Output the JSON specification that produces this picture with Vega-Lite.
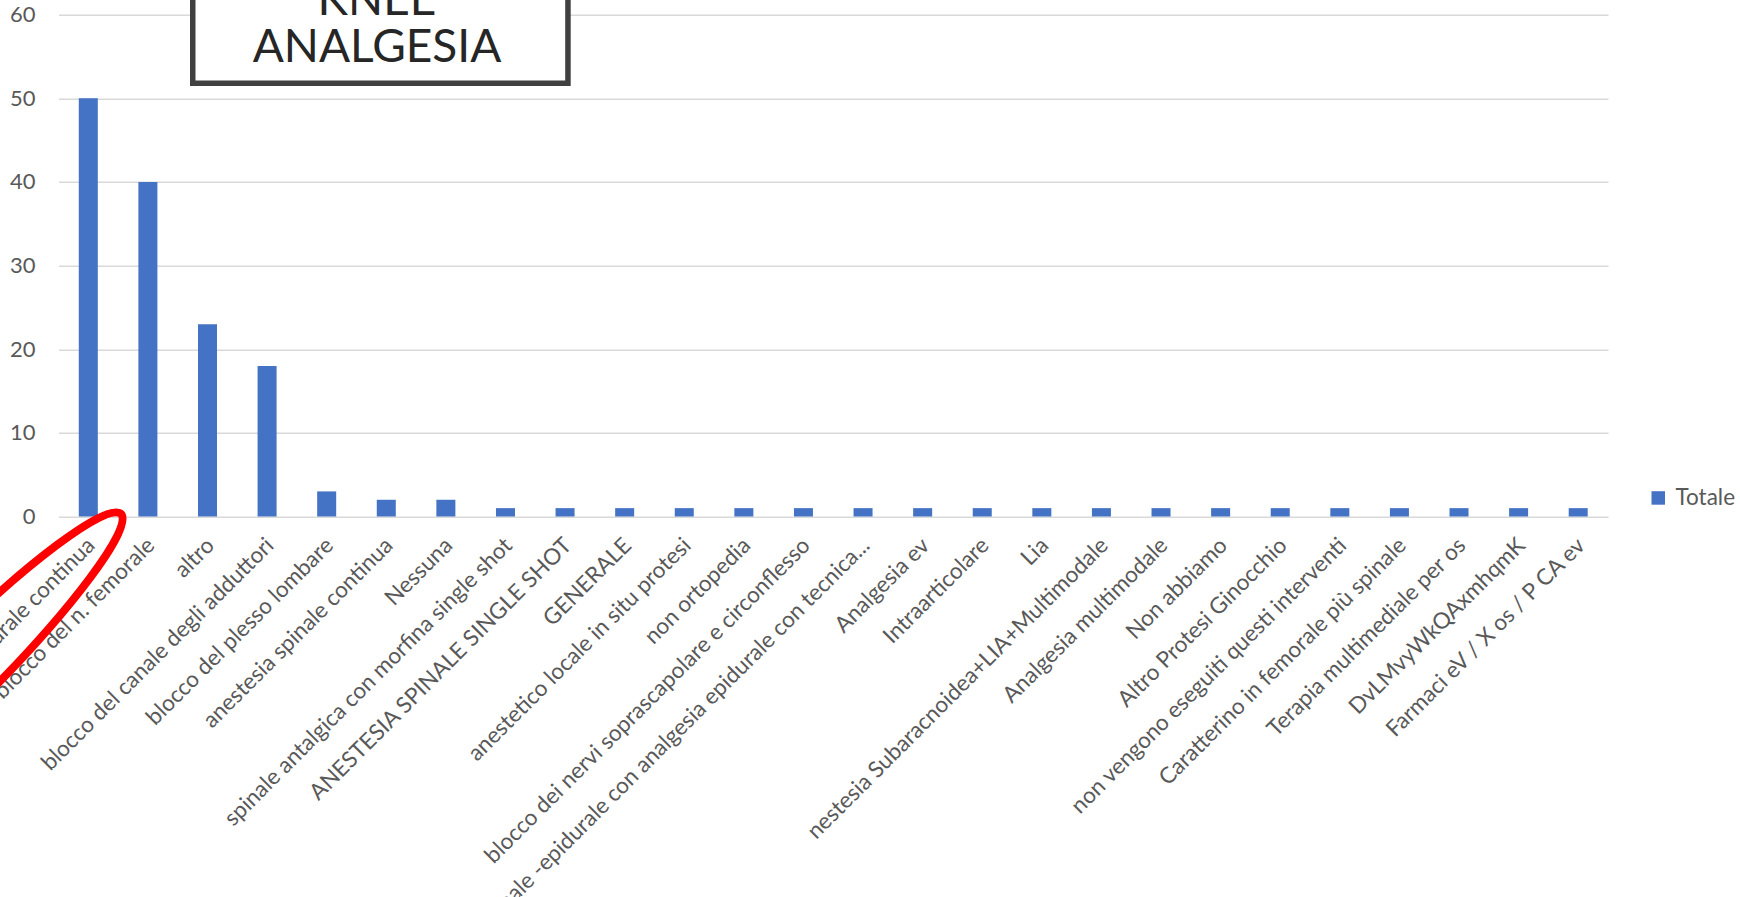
{
  "$schema": "https://vega.github.io/schema/vega-lite/v6.json",
  "width": 1549.5,
  "height": 501.8,
  "autosize": {"type": "none"},
  "padding": {"left": 58.5, "top": 14.7, "right": 132, "bottom": 380.5},
  "background": "white",
  "config": {
    "view": {"stroke": null},
    "font": "Lato",
    "axisY": {"grid": true, "gridColor": "#d9d9d9", "gridWidth": 1.5, "domain": false, "ticks": false, "labelFont": "Lato", "labelFontSize": 22, "labelColor": "#595959", "labelPadding": 23.5, "labelOverlap": false},
    "axisX": {"domain": false, "ticks": false, "tickSize": 0, "grid": false, "labelAngle": -45, "labelAlign": "right", "labelBaseline": "middle", "labelFont": "Lato", "labelFontSize": 22.5, "labelColor": "#595959", "labelPadding": 25, "labelOffset": 3, "labelLimit": 2000, "labelOverlap": false, "labelBound": false}
  },
  "layer": [
    {
      "data": {"values": [
        {"Risposta": "analgesia epidurale continua", "Totale": 50},
        {"Risposta": "blocco del n. femorale", "Totale": 40},
        {"Risposta": "altro", "Totale": 23},
        {"Risposta": "blocco del canale degli adduttori", "Totale": 18},
        {"Risposta": "blocco del plesso lombare", "Totale": 3},
        {"Risposta": "anestesia spinale continua", "Totale": 2},
        {"Risposta": "Nessuna", "Totale": 2},
        {"Risposta": "spinale antalgica con morfina single shot", "Totale": 1},
        {"Risposta": "ANESTESIA SPINALE SINGLE SHOT", "Totale": 1},
        {"Risposta": "GENERALE", "Totale": 1},
        {"Risposta": "anestetico locale in situ protesi", "Totale": 1},
        {"Risposta": "non ortopedia", "Totale": 1},
        {"Risposta": "blocco dei nervi soprascapolare e circonflesso", "Totale": 1},
        {"Risposta": "anestesia combinata spinale -epidurale con analgesia epidurale con tecnica...", "Totale": 1},
        {"Risposta": "Analgesia ev", "Totale": 1},
        {"Risposta": "Intraarticolare", "Totale": 1},
        {"Risposta": "Lia", "Totale": 1},
        {"Risposta": "nestesia Subaracnoidea+LIA+Multimodale", "Totale": 1},
        {"Risposta": "Analgesia multimodale", "Totale": 1},
        {"Risposta": "Non abbiamo", "Totale": 1},
        {"Risposta": "Altro Protesi Ginocchio", "Totale": 1},
        {"Risposta": "non vengono eseguiti questi interventi", "Totale": 1},
        {"Risposta": "Caratterino in femorale più spinale", "Totale": 1},
        {"Risposta": "Terapia multimediale per os", "Totale": 1},
        {"Risposta": "DvLMvyWkQAxmhqmK", "Totale": 1},
        {"Risposta": "Farmaci eV / X os / P CA ev", "Totale": 1}
      ]},
      "mark": {"type": "bar"},
      "encoding": {
        "x": {"field": "Risposta", "type": "nominal", "sort": null, "title": null, "scale": {"paddingInner": 0.681, "paddingOuter": 0.3405}},
        "y": {"field": "Totale", "type": "quantitative", "title": null, "scale": {"domain": [0, 60], "nice": false}, "axis": {"values": [0, 10, 20, 30, 40, 50, 60]}},
        "color": {"datum": "Totale", "type": "nominal", "scale": {"range": ["#4472C4"]}, "legend": {"title": null, "orient": "none", "legendX": 1588.5, "legendY": 472, "symbolType": "square", "symbolSize": 182, "symbolStrokeWidth": 0, "labelOffset": 6, "padding": 0, "labelFont": "Lato", "labelFontSize": 22.5, "labelColor": "#595959"}}
      }
    },
    {
      "data": {"values": [{}]},
      "layer": [
        {
          "mark": {"type": "rect", "fill": "white", "stroke": "#404040", "strokeWidth": 5.5},
          "encoding": {
            "x": {"datum": 2.2527, "type": "quantitative", "axis": null, "scale": {"domain": [0, 26], "nice": false, "zero": false}},
            "x2": {"datum": 8.5484},
            "y": {"datum": 51.8, "type": "quantitative", "title": null, "scale": {"domain": [0, 60], "nice": false}, "axis": {"values": [0, 10, 20, 30, 40, 50, 60]}},
            "y2": {"datum": 70}
          }
        },
        {
          "mark": {"type": "text", "text": "KNEE", "font": "Lato", "fontSize": 46, "color": "#262626", "align": "center", "baseline": "alphabetic"},
          "encoding": {
            "x": {"datum": 5.344, "type": "quantitative", "axis": null, "scale": {"domain": [0, 26], "nice": false, "zero": false}},
            "y": {"datum": 59.96, "type": "quantitative", "title": null, "scale": {"domain": [0, 60], "nice": false}, "axis": {"values": [0, 10, 20, 30, 40, 50, 60]}}
          }
        },
        {
          "mark": {"type": "text", "text": "ANALGESIA", "font": "Lato", "fontSize": 46, "color": "#262626", "align": "center", "baseline": "alphabetic"},
          "encoding": {
            "x": {"datum": 5.344, "type": "quantitative", "axis": null, "scale": {"domain": [0, 26], "nice": false, "zero": false}},
            "y": {"datum": 54.38, "type": "quantitative", "title": null, "scale": {"domain": [0, 60], "nice": false}, "axis": {"values": [0, 10, 20, 30, 40, 50, 60]}}
          }
        },
        {
          "mark": {"type": "point", "shape": "M -1 0 C -1 -0.0793 -0.5523 -0.1435 0 -0.1435 C 0.5523 -0.1435 1 -0.0793 1 0 C 1 0.0793 0.5523 0.1435 0 0.1435 C -0.5523 0.1435 -1 0.0793 -1 0 Z", "size": 211600, "angle": -45, "filled": false, "color": "#FF0000", "stroke": "#FF0000", "strokeWidth": 8, "opacity": 1},
          "encoding": {
            "x": {"datum": -1.68, "type": "quantitative", "axis": null, "scale": {"domain": [0, 26], "nice": false, "zero": false}},
            "y": {"datum": -19.14, "type": "quantitative", "title": null, "scale": {"domain": [0, 60], "nice": false}, "axis": {"values": [0, 10, 20, 30, 40, 50, 60]}}
          }
        }
      ]
    }
  ],
  "resolve": {"scale": {"x": "independent"}}
}
